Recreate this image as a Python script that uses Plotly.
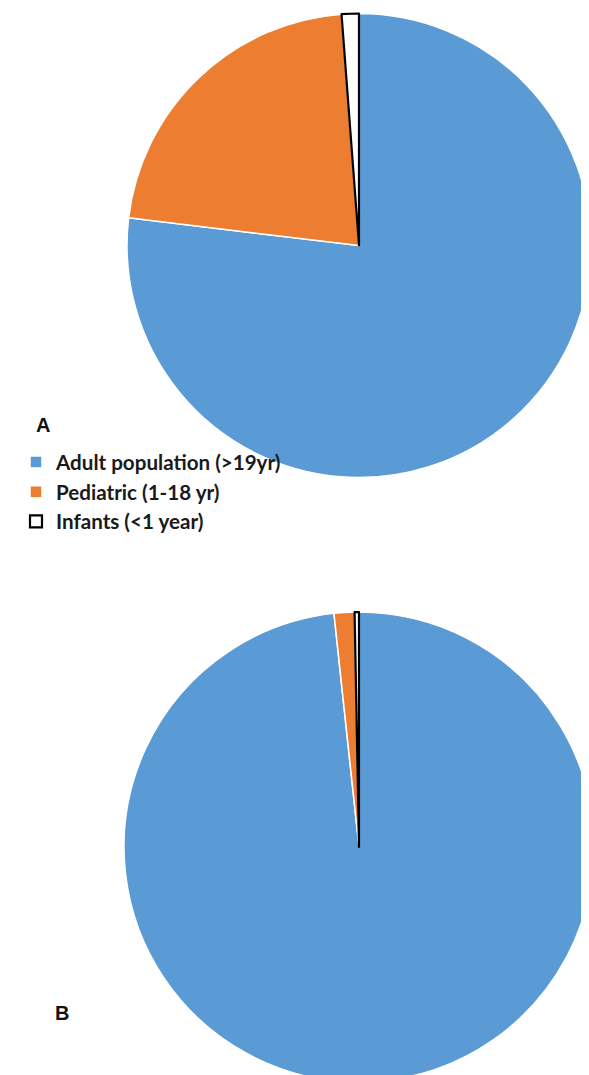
import plotly.graph_objects as go

labels = ["Adult population (>19yr)", "Pediatric (1-18 yr)", "Infants (<1 year)"]
values_a = [76.9, 21.9, 1.2]
values_b = [98.3, 1.4, 0.3]
colors = ["#5B9BD5", "#ED7D31", "#FFFFFF"]
line_colors = ["#FFFFFF", "#FFFFFF", "#000000"]
panel_labels = ["A", "B"]

W, H = 589, 1075
OFF = 8  # page body margin

def px_x(a, b):
    return [max(0, (a - OFF) / W), min(1, (b - OFF) / W)]

def px_y(top, bottom):
    return [max(0, 1 - (bottom - OFF) / H), min(1, 1 - (top - OFF) / H)]

fig = go.Figure()
fig.add_trace(go.Pie(
    labels=labels, values=values_a, sort=False, direction="clockwise", rotation=0,
    marker=dict(colors=colors, line=dict(color=line_colors, width=[1.5, 1.5, 2.2])),
    textinfo="none", hoverinfo="skip", showlegend=True,
    domain=dict(x=px_x(127, 591), y=px_y(13.5, 477.5)),
))
fig.add_trace(go.Pie(
    labels=labels, values=values_b, sort=False, direction="clockwise", rotation=0,
    marker=dict(colors=colors, line=dict(color=line_colors, width=[1.5, 1.5, 2.2])),
    textinfo="none", hoverinfo="skip", showlegend=False,
    domain=dict(x=px_x(124, 594), y=px_y(612, 1082)),
))

fig.add_annotation(text=panel_labels[0], xref="paper", yref="paper", x=(34 - OFF) / W, y=1 - (425 - OFF) / H,
                   xanchor="left", yanchor="middle", showarrow=False,
                   font=dict(family="Liberation Sans", size=20, color="#111111", weight="bold"))
fig.add_annotation(text=panel_labels[1], xref="paper", yref="paper", x=(53 - OFF) / W, y=1 - (1013 - OFF) / H,
                   xanchor="left", yanchor="middle", showarrow=False,
                   font=dict(family="Liberation Sans", size=20, color="#111111", weight="bold"))

fig.update_layout(
    width=W, height=H, margin=dict(l=0, r=0, t=0, b=0),
    paper_bgcolor="white", plot_bgcolor="white",
    legend=dict(x=(16 - OFF) / W, y=1 - (442 - OFF) / H, xanchor="left", yanchor="top",
                font=dict(family="Lato", size=20.6, color="#1a1a1a", weight="bold"),
                bgcolor="rgba(0,0,0,0)", traceorder="normal"),
)
fig.write_html("out.html")
